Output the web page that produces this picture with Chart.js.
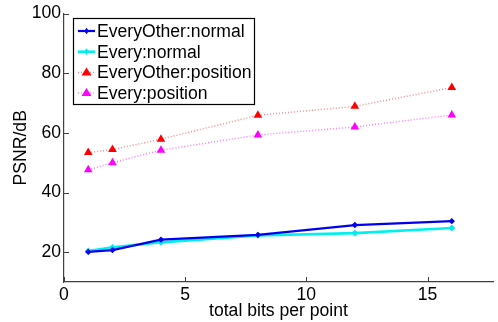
<!DOCTYPE html>
<html>
<head>
<meta charset="utf-8">
<script src="https://cdn.jsdelivr.net/npm/chart.js@4/dist/chart.umd.min.js"></script>
<style>
  html, body { margin: 0; padding: 0; background: #fff; }
  #wrap { width: 498px; height: 322px; }
</style>
</head>
<body>
<div id="wrap"><canvas id="psnrChart" width="498" height="322"></canvas></div>
<script>
// data
const bits = [1, 2, 4, 8, 12, 16];
const everyOtherNormal = [20.1, 20.7, 24.2, 25.8, 29.1, 30.4];
const everyNormal = [20.4, 21.6, 23.3, 25.6, 26.4, 28.1];
const everyOtherPosition = [53.4, 54.4, 57.9, 65.9, 68.9, 75.2];
const everyPosition = [47.6, 50.0, 54.2, 59.3, 62.0, 66.0];
const seriesNames = ['EveryOther:normal', 'Every:normal', 'EveryOther:position', 'Every:position'];
const xTicks = [0, 5, 10, 15];
const yTicks = [20, 40, 60, 80, 100];

const FONT = '"Liberation Sans", Arial, sans-serif';
const FSIZE = 17.6;
const AXIS = '#404040';

function toPoints(ys) {
  return bits.map((x, i) => ({ x: x, y: ys[i] }));
}

// inward tick marks + legend box, matlab style
const matlabBits = {
  id: 'matlabBits',
  afterDraw(chart) {
    const c = chart.ctx;
    const xs = chart.scales.x, ys = chart.scales.y;
    const area = chart.chartArea;
    c.save();
    c.strokeStyle = AXIS;
    c.lineWidth = 1;
    c.beginPath();
    xTicks.forEach(v => {
      const px = Math.round(xs.getPixelForValue(v)) + 0.5;
      c.moveTo(px, area.bottom);
      c.lineTo(px, area.bottom - 5);
    });
    yTicks.forEach(v => {
      const py = Math.round(ys.getPixelForValue(v)) + 0.5;
      c.moveTo(area.left, py);
      c.lineTo(area.left + 5, py);
    });
    c.stroke();

    // legend
    const bx = 73.5, by = 18.5, bw = 181, bh = 86;
    c.fillStyle = '#fff';
    c.fillRect(bx, by, bw, bh);
    c.strokeStyle = '#000';
    c.lineWidth = 1.2;
    c.strokeRect(bx, by, bw, bh);
    c.font = FSIZE + 'px ' + FONT;
    c.textBaseline = 'middle';
    chart.data.datasets.forEach((ds, i) => {
      const y = 31 + i * 20.7;
      c.strokeStyle = ds.borderColor;
      c.lineWidth = ds.borderWidth;
      c.setLineDash(ds.borderDash || []);
      c.beginPath();
      c.moveTo(78, y);
      c.lineTo(95, y);
      c.stroke();
      c.setLineDash([]);
      c.fillStyle = ds.pointBackgroundColor;
      const r = ds.pointRadius;
      c.beginPath();
      if (ds.pointStyle === 'triangle') {
        c.moveTo(86.5, y - r);
        c.lineTo(86.5 + r, y + r * 0.6);
        c.lineTo(86.5 - r, y + r * 0.6);
      } else {
        c.moveTo(86.5, y - r);
        c.lineTo(86.5 + r * 0.7, y);
        c.lineTo(86.5, y + r);
        c.lineTo(86.5 - r * 0.7, y);
      }
      c.closePath();
      c.fill();
      c.fillStyle = '#000';
      c.fillText(ds.label, 97, y + 1);
    });
    c.restore();
  }
};

const ctx = document.getElementById('psnrChart').getContext('2d');
const chart = new Chart(ctx, {
  type: 'line',
  data: {
    datasets: [
      {
        label: seriesNames[0],
        data: toPoints(everyOtherNormal),
        borderColor: '#0000ee',
        borderWidth: 2.2,
        pointStyle: 'rectRot',
        pointRadius: 3.2,
        pointBackgroundColor: '#0000ee',
        pointBorderColor: '#0000ee',
        pointBorderWidth: 0
      },
      {
        label: seriesNames[1],
        data: toPoints(everyNormal),
        borderColor: '#00f0f0',
        borderWidth: 2.6,
        pointStyle: 'rectRot',
        pointRadius: 3.4,
        pointBackgroundColor: '#00e8f0',
        pointBorderColor: '#00e8f0',
        pointBorderWidth: 0
      },
      {
        label: seriesNames[2],
        data: toPoints(everyOtherPosition),
        borderColor: 'rgba(255,50,50,0.6)',
        borderWidth: 1.4,
        borderDash: [1, 2],
        pointStyle: 'triangle',
        pointRadius: 5,
        pointBackgroundColor: '#ff0000',
        pointBorderColor: '#ff0000',
        pointBorderWidth: 0
      },
      {
        label: seriesNames[3],
        data: toPoints(everyPosition),
        borderColor: 'rgba(255,40,255,0.65)',
        borderWidth: 1.4,
        borderDash: [1, 2],
        pointStyle: 'triangle',
        pointRadius: 5,
        pointBackgroundColor: '#ff00ff',
        pointBorderColor: '#ff00ff',
        pointBorderWidth: 0
      }
    ]
  },
  options: {
    responsive: false,
    animation: false,
    layout: { padding: { top: 12, right: 1, left: 11, bottom: 0 } },
    plugins: {
      legend: { display: false },
      tooltip: { enabled: false }
    },
    scales: {
      x: {
        type: 'linear',
        min: 0,
        max: 17.7,
        afterBuildTicks: s => { s.ticks = xTicks.map(v => ({ value: v })); },
        afterFit: s => { s.height = 40; },
        grid: { display: false, drawTicks: false },
        border: { display: true, color: AXIS, width: 1.2 },
        ticks: { color: '#000', font: { family: FONT, size: FSIZE }, padding: 3 },
        title: {
          display: true,
          text: 'total bits per point',
          color: '#000',
          font: { family: FONT, size: FSIZE },
          padding: { top: -5, bottom: 0 }
        }
      },
      y: {
        min: 10,
        max: 100,
        afterBuildTicks: s => { s.ticks = yTicks.map(v => ({ value: v })); },
        afterFit: s => { s.width = 53; },
        grid: { display: false, drawTicks: false },
        border: { display: true, color: AXIS, width: 1.2 },
        ticks: { color: '#000', font: { family: FONT, size: FSIZE }, padding: 3 },
        title: {
          display: true,
          text: 'PSNR/dB',
          color: '#000',
          font: { family: FONT, size: FSIZE },
          padding: { top: 0, bottom: 0 }
        }
      }
    }
  },
  plugins: [matlabBits]
});
</script>
</body>
</html>
